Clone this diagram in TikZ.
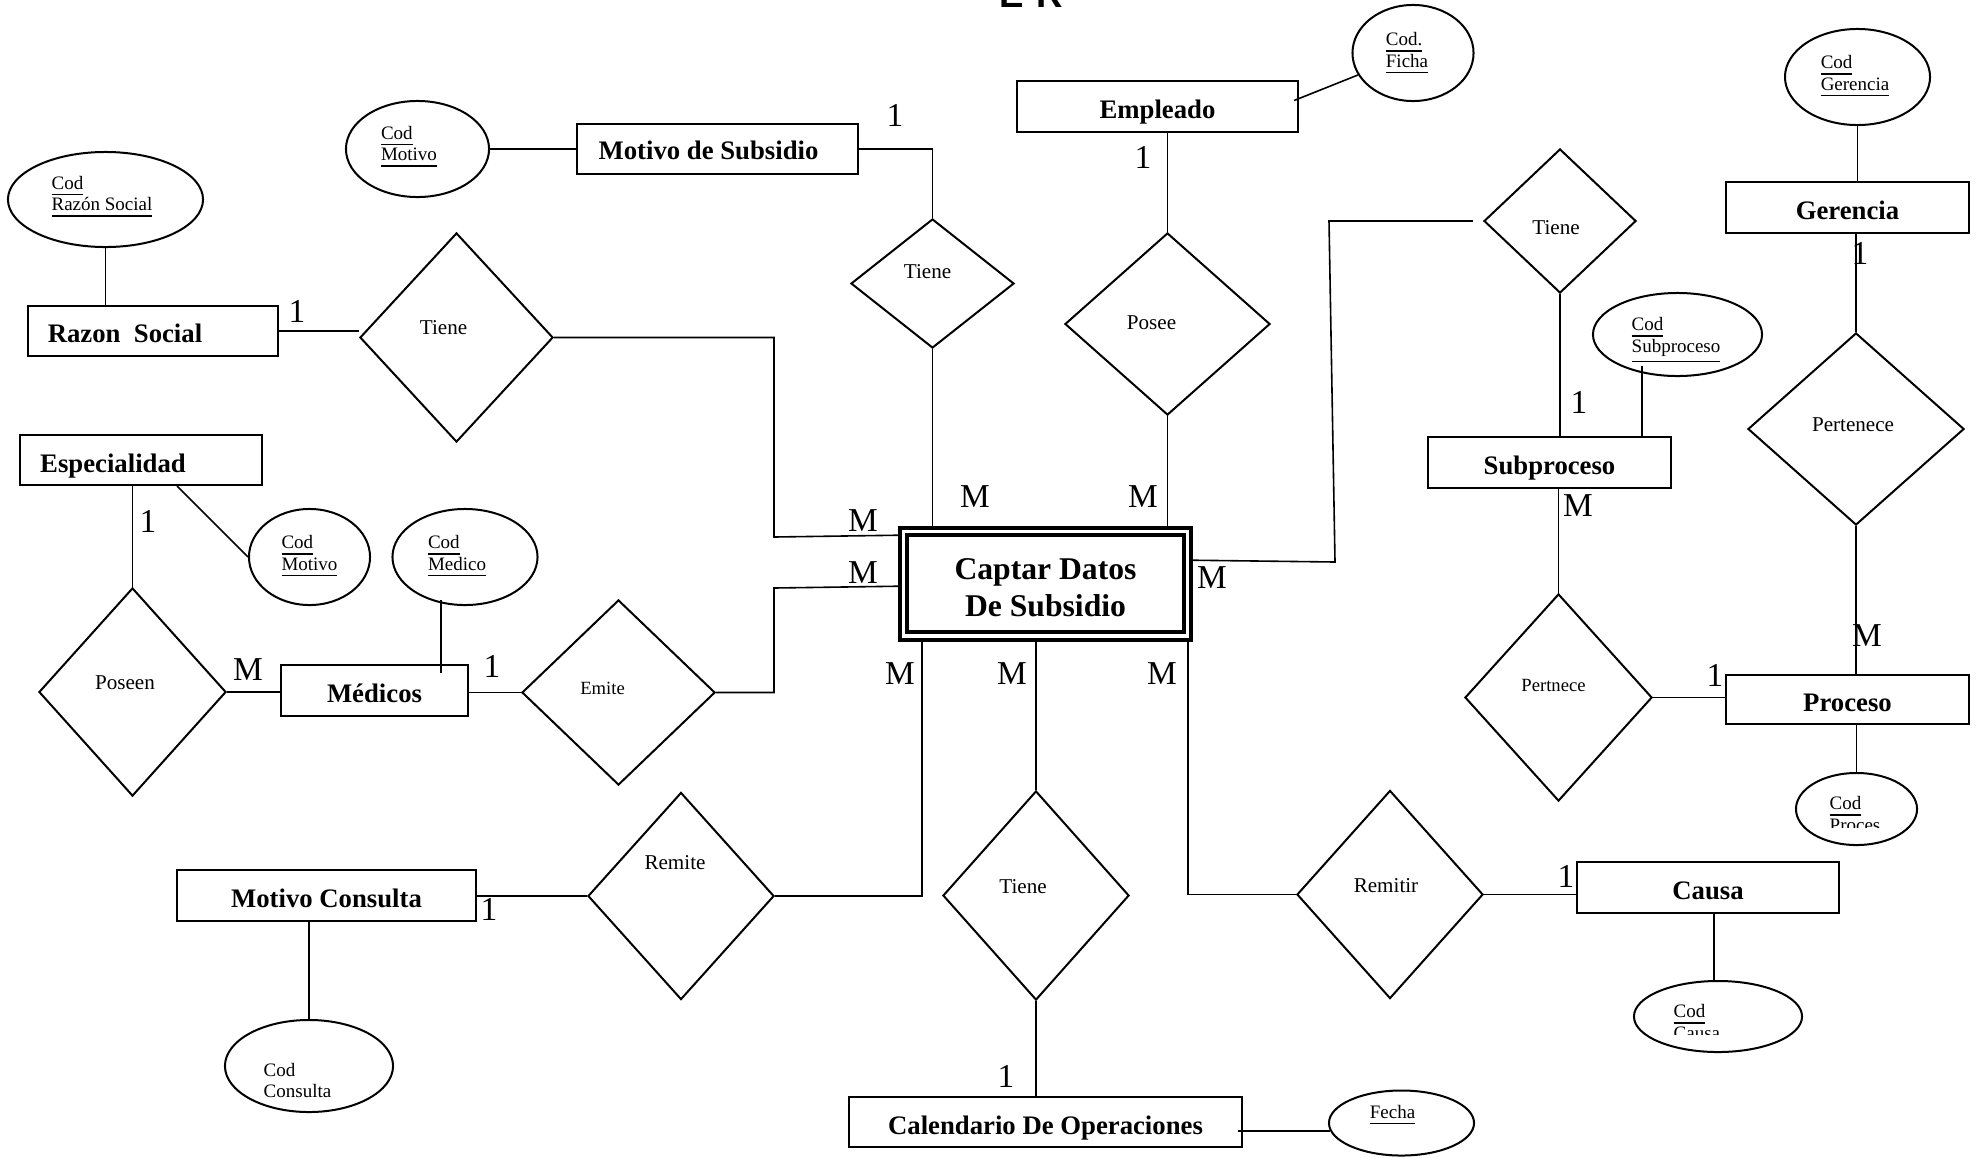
\documentclass[tikz,border=0pt]{standalone}
\usepackage{fontspec}
\setmainfont{Liberation Serif}
\setsansfont{Liberation Sans}
\usetikzlibrary{shapes.geometric,calc}
\begin{document}
\begin{tikzpicture}[x=0.01cm,y=-0.01cm,
  ent/.style={draw, rectangle, line width=0.2mm, inner sep=0pt},
  entlab/.style={inner sep=0pt, text height=5.2pt, text depth=0pt, font=\fontsize{7.6}{9}\selectfont\bfseries},
  rel/.style={draw, diamond, line width=0.2mm, inner sep=0pt},
  rellab/.style={inner sep=0pt, font=\fontsize{6}{7}\selectfont},
  relsmall/.style={inner sep=0pt, font=\fontsize{5.3}{6}\selectfont},
  att/.style={draw, ellipse, line width=0.2mm, inner sep=0pt},
  attlab/.style={inner sep=0pt, align=left, font=\fontsize{5.4}{6.1}\selectfont},
  card/.style={inner sep=0pt, font=\fontsize{9.5}{11}\selectfont},
  conn/.style={line width=0.16mm},
]
\path[use as bounding box, fill=white] (0,0) rectangle (1982,1157);

% title (mostly above the page)
\node[anchor=base, inner sep=0pt, font=\fontsize{10.4}{12}\selectfont\sffamily\bfseries] (title) at (1031,7) {E-R};

% ---------- entities ----------
\node[ent, minimum width=28.1mm, minimum height=5.0mm, label={[entlab,shift={(-9,1)}]center:Motivo de Subsidio}] (ms) at (717.5,149) {};
\node[ent, minimum width=28.1mm, minimum height=5.1mm, label={[entlab,shift={(0,3)}]center:Empleado}] (emp) at (1157.5,106.5) {};
\node[ent, minimum width=25.0mm, minimum height=5.0mm, label={[entlab,shift={(-28,2)}]center:Razon\ \ Social}] (rs) at (153,331) {};
\node[ent, minimum width=24.2mm, minimum height=5.0mm, label={[entlab,shift={(-28,3)}]center:Especialidad}] (esp) at (141,460) {};
\node[ent, minimum width=18.7mm, minimum height=5.1mm, label={[entlab,shift={(0,3)}]center:Médicos}] (med) at (374.5,690.5) {};
\node[ent, minimum width=29.9mm, minimum height=5.1mm, label={[entlab,shift={(0,3)}]center:Motivo Consulta}] (mc) at (326.5,895.5) {};
\node[ent, minimum width=39.3mm, minimum height=5.0mm, label={[entlab,shift={(0,3)}]center:Calendario De Operaciones}] (cal) at (1045.5,1122) {};
\node[ent, minimum width=26.2mm, minimum height=5.1mm, label={[entlab,shift={(0,3)}]center:Causa}] (cau) at (1708,887.5) {};
\node[ent, minimum width=24.3mm, minimum height=4.9mm, label={[entlab,shift={(0,3)}]center:Proceso}] (pro) at (1847.5,699.5) {};
\node[ent, minimum width=24.3mm, minimum height=5.1mm, label={[entlab,shift={(0,3)}]center:Subproceso}] (sub) at (1549.5,462.5) {};
\node[ent, minimum width=24.3mm, minimum height=5.1mm, label={[entlab,shift={(0,3)}]center:Gerencia}] (ger) at (1847.5,207.5) {};

% weak entity (double border)
\node[draw, rectangle, line width=0.35mm, inner sep=0pt, minimum width=29.1mm, minimum height=11.2mm,
      label={[inner sep=0pt, align=center, shift={(0,4)}, font=\fontsize{9}{10.5}\selectfont\bfseries]center:Captar Datos\\De Subsidio}] (cap) at (1045.5,584) {};
\draw[line width=0.4mm] ($(cap.north west)+(9,9)$) rectangle ($(cap.south east)+(-9,-10)$);

% ---------- relationships ----------
\node[rel, minimum width=16.3mm, minimum height=12.9mm, label={[rellab,shift={(-5,-12)}]center:Tiene}] (t1) at (932.5,283.5) {};
\node[rel, minimum width=19.3mm, minimum height=20.9mm, label={[rellab,shift={(-13,-10)}]center:Tiene}] (t2) at (456.5,337.5) {};
\node[rel, minimum width=20.5mm, minimum height=18.2mm, label={[rellab,shift={(-16,-1)}]center:Posee}] (pos) at (1167.5,324) {};
\node[rel, minimum width=15.2mm, minimum height=14.4mm, label={[rellab,shift={(-4,7)}]center:Tiene}] (t3) at (1560,221) {};
\node[rel, minimum width=21.6mm, minimum height=19.2mm, label={[rellab,shift={(-3,-4)}]center:Pertenece}] (per) at (1856,429) {};
\node[rel, minimum width=18.7mm, minimum height=20.8mm, label={[rellab,shift={(-7.5,-9)}]center:Poseen}] (psn) at (132.5,692) {};
\node[rel, minimum width=19.3mm, minimum height=18.5mm, label={[relsmall,shift={(-16,-4)}]center:Emite}] (emi) at (618.5,692.5) {};
\node[rel, minimum width=18.7mm, minimum height=20.7mm, label={[relsmall,shift={(-5,-12)}]center:Pertnece}] (prt) at (1558.5,697.5) {};
\node[rel, minimum width=18.6mm, minimum height=20.7mm, label={[rellab,shift={(-6,-33)}]center:Remite}] (rem) at (681,896) {};
\node[rel, minimum width=18.6mm, minimum height=20.9mm, label={[rellab,shift={(-13,-9)}]center:Tiene}] (t4) at (1036,895.5) {};
\node[rel, minimum width=18.6mm, minimum height=20.8mm, label={[rellab,shift={(-4,-9)}]center:Remitir}] (rmt) at (1390,894.5) {};

% ---------- attributes ----------
\node[att, minimum width=14.3mm, minimum height=9.6mm, label={[attlab,shift={(-8.5,-2)}]center:\underline{Cod}\\\underline{Motivo}}] (a1) at (417.5,149) {};
\node[att, minimum width=19.5mm, minimum height=9.5mm, label={[attlab,shift={(-3.5,-2.5)}]center:\underline{Cod}\\\underline{Razón Social}}] (a2) at (105.5,199.5) {};
\node[att, minimum width=12.1mm, minimum height=9.6mm, label={[attlab,shift={(-6,0.5)}]center:\underline{Cod.}\\\underline{Ficha}}] (a3) at (1413,53) {};
\node[att, minimum width=14.5mm, minimum height=9.6mm, label={[attlab,shift={(-2.5,-0.5)}]center:\underline{Cod}\\\underline{Gerencia}}] (a4) at (1857.5,77) {};
\node[att, minimum width=16.9mm, minimum height=8.3mm, label={[attlab,shift={(-1.5,6)}]center:\underline{Cod}\\\underline{Subproceso}}] (a5) at (1677.5,334.5) {};
\node[att, minimum width=12.1mm, minimum height=9.6mm, label={[attlab,shift={(0,-0.5)}]center:\underline{Cod}\\\underline{Motivo}}] (a6) at (309.5,557) {};
\node[att, minimum width=14.5mm, minimum height=9.6mm, label={[attlab,shift={(-8,-0.5)}]center:\underline{Cod}\\\underline{Medico}}] (a7) at (465,557) {};
\node[att, minimum width=12.1mm, minimum height=7.2mm] (a8) at (1856.5,809) {};
\node[att, minimum width=16.8mm, minimum height=7.1mm] (a9) at (1718,1016.5) {};
\node[att, minimum width=16.8mm, minimum height=9.2mm, label={[attlab,shift={(-11.5,14.5)}]center:Cod\\Consulta}] (a10) at (309,1066) {};
\node[att, minimum width=14.5mm, minimum height=6.5mm, label={[attlab,shift={(-9,-7.5)}]center:\underline{Fecha}}] (a11) at (1401.5,1123) {};

% clipped text boxes
\begin{scope}
  \clip (1790,780) rectangle (1920,827);
  \node[attlab, anchor=north west] (a8t) at (1829,796) {\underline{Cod}\\\underline{Proces}};
\end{scope}
\begin{scope}
  \clip (1640,990) rectangle (1800,1034);
  \node[attlab, anchor=north west] (a9t) at (1673,1004) {\underline{Cod}\\\underline{Causa}};
\end{scope}

% ---------- connectors ----------
\draw[conn] (a1.east) -- (a1.east -| ms.west);
\draw[conn] (ms.east) -| (t1.north);
\draw[conn] (t1.south) -- (t1.south |- cap.north);
\draw[conn] (pos.north |- emp.south) -- (pos.north);
\draw[conn] (pos.south) -- (pos.south |- cap.north);
\draw[conn] ($(emp.east)+(-5,-6)$) -- (a3);
\draw[conn] (a2.south) -- (a2.south |- rs.north);
\draw[conn] (rs.east) -- (rs.east -| t2.west);
\draw[conn] (t2.east) -| (774,537) -- ($(cap.north west)+(0,9)$);
\draw[conn] ($(esp.south)+(36,0)$) -- (a6.west);
\draw[conn] (psn.north |- esp.south) -- (psn.north);
\draw[conn] (psn.east) -- (psn.east -| med.west);
\draw[conn] ($(a7.south)+(-24,-6)$) -- ($(a7.south)+(-24,67)$);
\draw[conn] (emi.west) -- (emi.west -| med.east);
\draw[conn] (emi.east) -| (774,588) -- ($(cap.north west)+(0,60)$);
\draw[conn] ($(cap.north east)+(0,34)$) -- (1335,562) -- (1329,221) -- ([xshift=-1mm]t3.west);
\draw[conn] (t3.south) -- (t3.south |- sub.north);
\coordinate (a5p) at ($(a5.south)+(-35.5,-11)$);
\draw[conn] (a5p) -- (a5p |- sub.north);
\draw[conn] (prt.north |- sub.south) -- (prt.north);
\draw[conn] (prt.east) -- (prt.east -| pro.west);
\draw[conn] (a4.south) -- (a4.south |- ger.north);
\draw[conn] (per.north |- ger.south) -- (per.north);
\draw[conn] (per.south) -- (per.south |- pro.north);
\draw[conn] (a8.north |- pro.south) -- (a8.north);
\draw[conn] ($(cap.south west)+(24,0)$) |- (rem.east);
\draw[conn] (rem.west) -- (rem.west -| mc.east);
\draw[conn] (a10.north |- mc.south) -- (a10.north);
\draw[conn] (t4.north |- cap.south) -- (t4.north);
\draw[conn] (t4.south) -- (t4.south |- cal.north);
\draw[conn] ($(cal.east)+(-5,9)$) -- ++(92,0);
\draw[conn] ($(cap.south east)+(-5,0)$) |- (rmt.west);
\draw[conn] (rmt.east) -- (rmt.east -| cau.west);
\draw[conn] ($(cau.south)+(6,0)$) -- ($(cau.south)+(6,68)$);

% ---------- cardinalities ----------
\node[card] (c1) at (895,115) {1};
\node[card] (c2) at (975,497) {M};
\node[card] (c3) at (1143,157) {1};
\node[card] (c4) at (1143,497) {M};
\node[card] (c5) at (297,311) {1};
\node[card] (c6) at (863,521) {M};
\node[card] (c7) at (148,521) {1};
\node[card] (c8) at (248,670) {M};
\node[card] (c9) at (492,666) {1};
\node[card] (c10) at (863,573) {M};
\node[card] (c11) at (1212,578) {M};
\node[card] (c12) at (1579,402) {1};
\node[card] (c13) at (1578,506) {M};
\node[card] (c14) at (1715,675) {1};
\node[card] (c15) at (1860,253) {1};
\node[card] (c16) at (1867,636) {M};
\node[card] (c17) at (900,674) {M};
\node[card] (c18) at (489,909) {1};
\node[card] (c19) at (1012,674) {M};
\node[card] (c20) at (1006,1076) {1};
\node[card] (c21) at (1162,674) {M};
\node[card] (c22) at (1566,876) {1};
\end{tikzpicture}
\end{document}
